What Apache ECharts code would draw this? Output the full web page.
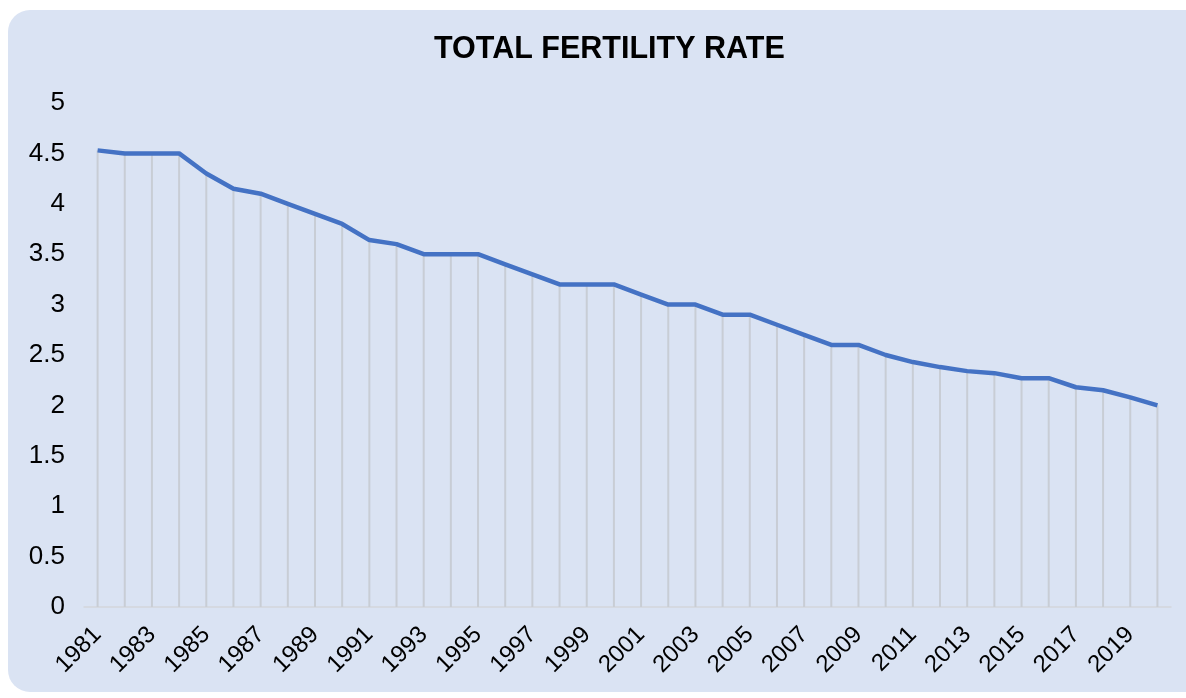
<!DOCTYPE html>
<html>
<head>
<meta charset="utf-8">
<script src="https://cdn.jsdelivr.net/npm/echarts@6/dist/echarts.min.js"></script>
<style>
  html, body { margin: 0; padding: 0; background: #fff; }
  #card {
    position: absolute; left: 8px; top: 10px; width: 1200px; height: 682px;
    background: #DAE3F3; border-radius: 22px;
  }
  #chart { position: absolute; left: 0; top: 0; width: 1186px; height: 698px; }
</style>
</head>
<body>
<div id="card"></div>
<div id="chart"></div>
<script>
// years 1981..2020
var years = [
  '1981', '1982', '1983', '1984', '1985', '1986', '1987', '1988', '1989', '1990',
  '1991', '1992', '1993', '1994', '1995', '1996', '1997', '1998', '1999', '2000',
  '2001', '2002', '2003', '2004', '2005', '2006', '2007', '2008', '2009', '2010',
  '2011', '2012', '2013', '2014', '2015', '2016', '2017', '2018', '2019', '2020'
];
var fertility = [
  4.53, 4.5, 4.5, 4.5, 4.3, 4.15, 4.1, 4.0, 3.9, 3.8,
  3.64, 3.6, 3.5, 3.5, 3.5, 3.4, 3.3, 3.2, 3.2, 3.2,
  3.1, 3.0, 3.0, 2.9, 2.9, 2.8, 2.7, 2.6, 2.6, 2.5,
  2.43, 2.38, 2.34, 2.32, 2.27, 2.27, 2.18, 2.15, 2.08, 2.0
];
var chartTitle = 'TOTAL FERTILITY RATE';

var chart = echarts.init(document.getElementById('chart'));
chart.setOption({
  backgroundColor: 'transparent',
  animation: false,
  title: {
    text: chartTitle,
    left: 429,
    top: 29,
    textStyle: {
      fontFamily: 'Liberation Sans',
      fontSize: 30.5,
      fontWeight: 'bold',
      color: '#000'
    }
  },
  grid: {
    left: 84,
    right: 15,
    top: 103,
    bottom: 91
  },
  xAxis: {
    type: 'category',
    data: years,
    boundaryGap: true,
    axisTick: { show: false },
    axisLine: {
      lineStyle: { color: '#D3D6DC', width: 1.5 }
    },
    axisLabel: {
      interval: 1,
      rotate: 45,
      margin: 24,
      fontFamily: 'Liberation Sans',
      fontSize: 24,
      color: '#000'
    }
  },
  yAxis: {
    type: 'value',
    min: 0,
    max: 5,
    interval: 0.5,
    axisLine: { show: false },
    axisTick: { show: false },
    splitLine: { show: false },
    axisLabel: {
      margin: 19,
      fontFamily: 'Liberation Sans',
      fontSize: 26,
      color: '#000'
    }
  },
  series: [
    {
      // drop lines
      type: 'bar',
      data: fertility,
      barWidth: 2,
      itemStyle: { color: '#C8CDD5' },
      silent: true,
      z: 1
    },
    {
      type: 'line',
      data: fertility,
      symbol: 'none',
      lineStyle: { color: '#4472C4', width: 4.5 },
      z: 3
    }
  ]
});
</script>
</body>
</html>
